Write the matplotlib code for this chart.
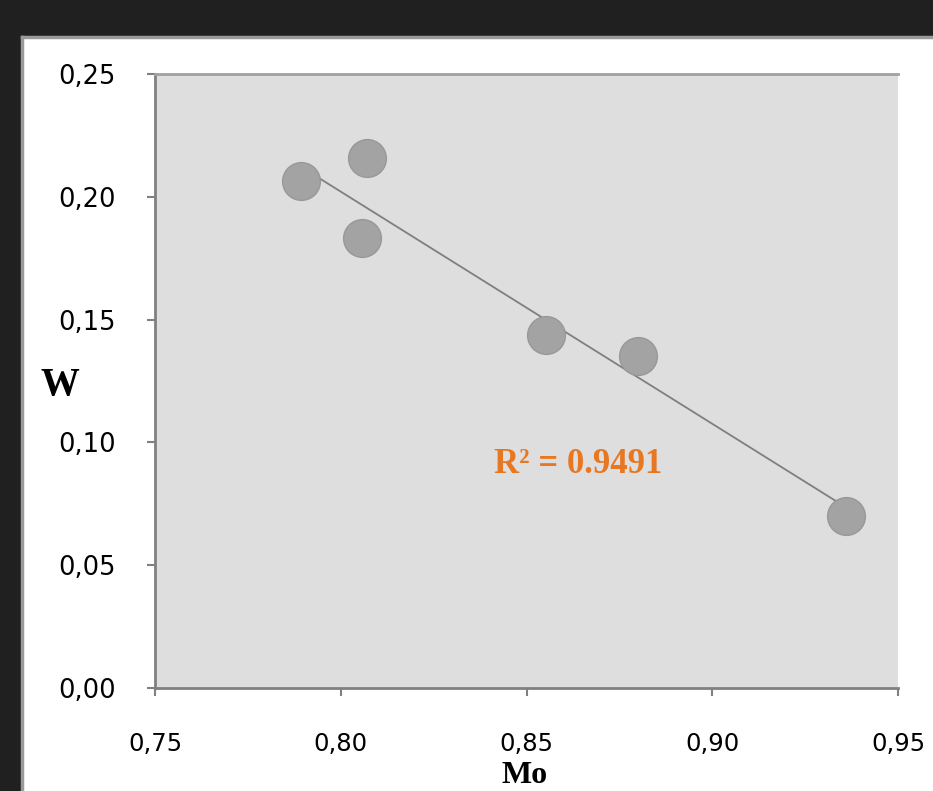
import matplotlib
matplotlib.use("Agg")
import matplotlib.pyplot as plt
import numpy as np

mo = [0.7893, 0.8071, 0.8057, 0.8552, 0.8800, 0.9360]
w = [0.2064, 0.2158, 0.1832, 0.1437, 0.1352, 0.0700]
xticks = [0.75, 0.80, 0.85, 0.90, 0.95]
yticks = [0.00, 0.05, 0.10, 0.15, 0.20, 0.25]
r2_text = "R² = 0.9491"

W, H = 933, 791
fig = plt.figure(figsize=(W/100, H/100), dpi=100)
fig.patch.set_facecolor("#202020")

bg = fig.add_axes([22/W, -0.01, 1 - 22/W + 0.01, (H-37)/H + 0.01], zorder=-5)
bg.set_facecolor("white")
bg.set_xticks([]); bg.set_yticks([])
for s in bg.spines.values():
    s.set_color("#9a9a9a"); s.set_linewidth(2.5)

ax = fig.add_axes([155/W, 1-688/H, (898-155)/W, (688-74)/H], zorder=1)
ax.set_facecolor("#dedede")
ax.set_xlim(0.75, 0.95)
ax.set_ylim(0, 0.25)

ax.scatter(mo, w, s=740, color="#a3a3a3", edgecolor="#989898", linewidth=1, zorder=3)
a, b = np.polyfit(mo, w, 1)
xs = np.array([min(mo), max(mo)])
ax.plot(xs, a*xs + b, color="#7f7f7f", linewidth=1.3, zorder=2)

ax.set_xticks(xticks)
ax.set_yticks(yticks)
ax.set_xticklabels([f"{v:.2f}".replace(".", ",") for v in xticks], fontsize=17.5)
ax.set_yticklabels([f"{v:.2f}".replace(".", ",") for v in yticks], fontsize=18.5)
ax.tick_params(axis="x", direction="out", length=6, width=1.5, color="#808080", pad=26)
ax.tick_params(axis="y", direction="out", length=6, width=1.5, color="#808080", pad=22)

for s in ["left", "bottom"]:
    ax.spines[s].set_color("#808080")
    ax.spines[s].set_linewidth(2)
ax.spines["top"].set_color("#a0a0a0")
ax.spines["top"].set_linewidth(2)
ax.spines["right"].set_visible(False)

ax.text(0.8639, 0.0908, r2_text, fontfamily="Liberation Serif", fontweight="bold",
        fontsize=25, color="#e87722", ha="center", va="center")

fig.text(60/W, 1-385/H, "W", fontfamily="Liberation Serif", fontweight="bold",
         fontsize=28, ha="center", va="center")
fig.text(525/W, 1-790/H, "Mo", fontfamily="Liberation Serif", fontweight="bold",
         fontsize=23, ha="center", va="bottom")

fig.savefig("out.png", dpi=100, facecolor=fig.get_facecolor())
